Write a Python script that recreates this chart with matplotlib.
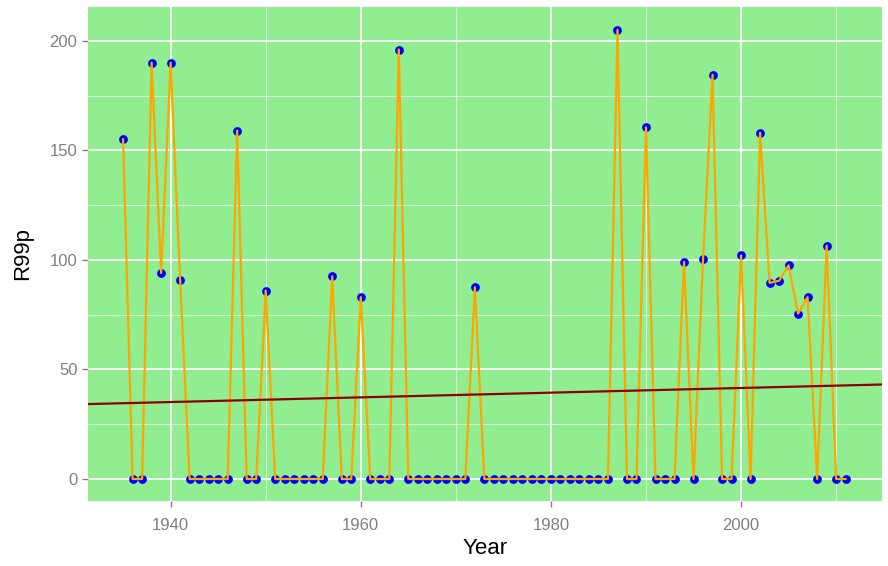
import matplotlib

matplotlib.use("Agg")
import matplotlib.pyplot as plt
import numpy as np
from matplotlib.ticker import MultipleLocator

plt.rcParams["font.family"] = ["Liberation Sans", "DejaVu Sans"]

years = list(range(1935, 2012))
r99p = [
    155, 0, 0, 190, 94, 190, 91, 0, 0, 0,          # 1935-1944
    0, 0, 159, 0, 0, 86, 0, 0, 0, 0,               # 1945-1954
    0, 0, 92.5, 0, 0, 83, 0, 0, 0, 196,            # 1955-1964
    0, 0, 0, 0, 0, 0, 0, 87.5, 0, 0,               # 1965-1974
    0, 0, 0, 0, 0, 0, 0, 0, 0, 0,                  # 1975-1984
    0, 0, 205, 0, 0, 160.5, 0, 0, 0, 99,           # 1985-1994
    0, 100.5, 184.5, 0, 0, 102, 0, 158, 89.5, 90.5,  # 1995-2004
    97.5, 75.5, 83, 0, 106.5, 0, 0,                # 2005-2011
]
x_ticks = [1940, 1960, 1980, 2000]
y_ticks = [0, 50, 100, 150, 200]

x = np.array(years, dtype=float)
y = np.array(r99p, dtype=float)

fig = plt.figure(figsize=(8.88, 5.66), dpi=100)
ax = fig.add_axes([0.099, 0.115, 0.894, 0.873])
ax.set_facecolor("#90ee90")

ax.set_xlim(1931.3, 2014.8)
ax.set_ylim(-10, 215.5)
ax.set_xticks(x_ticks)
ax.set_yticks(y_ticks)
ax.xaxis.set_minor_locator(MultipleLocator(10))
ax.yaxis.set_minor_locator(MultipleLocator(25))
ax.grid(which="major", color="white", linewidth=1.3)
ax.grid(which="minor", color="white", linewidth=0.6, alpha=0.8)
ax.set_axisbelow(True)
for spine in ax.spines.values():
    spine.set_visible(False)

ax.scatter(x, y, s=40, color="blue", zorder=3, linewidths=0)
ax.plot(x, y, color="orange", linewidth=1.6, zorder=4)

# linear trend over the full axis range
slope, intercept = np.polyfit(x, y, 1)
xs = np.array(ax.get_xlim())
ax.plot(xs, intercept + slope * xs, color="darkred", linewidth=1.6, zorder=5)
ax.set_xlim(xs)

ax.tick_params(which="major", colors="#7f7f7f", labelsize=12, length=4, width=1)
ax.tick_params(axis="x", which="major", pad=8)
ax.tick_params(which="minor", length=0)
ax.set_xlabel("Year", fontsize=16, labelpad=4)
ax.set_ylabel("R99p", fontsize=16, labelpad=12)

fig.savefig("out.png", dpi=100)
